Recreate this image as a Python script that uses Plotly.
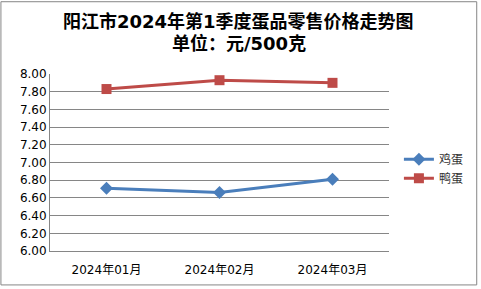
import plotly.graph_objects as go

categories = ["2024年01月", "2024年02月", "2024年03月"]
chicken = [6.71, 6.66, 6.81]
duck = [7.83, 7.93, 7.90]
tick_vals = [6.0 + 0.2 * i for i in range(11)]
title_lines = ["阳江市2024年第1季度蛋品零售价格走势图", "单位：元/500克"]

W, H = 481, 289
L, R, T, B = 50, 89, 74, 35
pw, ph = W - L - R, H - T - B

fig = go.Figure()
fig.add_trace(go.Scatter(x=categories, y=chicken, name="鸡蛋", mode="lines+markers",
                         line=dict(color="#4A7EBB", width=3),
                         marker=dict(symbol="diamond", size=10, color="#4A7EBB")))
fig.add_trace(go.Scatter(x=categories, y=duck, name="鸭蛋", mode="lines+markers",
                         line=dict(color="#BE4B48", width=3),
                         marker=dict(symbol="square", size=10, color="#BE4B48")))

font_fam = "DejaVu Sans, Noto Sans CJK SC"
annotations = []
for i, txt in enumerate(title_lines):
    annotations.append(dict(text="<b>" + txt + "</b>", xref="paper", yref="paper",
                            x=(W / 2 - L) / pw, xanchor="center",
                            y=1 + (T - (21 + 22 * i)) / ph, yanchor="middle",
                            showarrow=False,
                            font=dict(family=font_fam, size=18, color="black")))

fig.update_layout(
    width=W, height=H,
    margin=dict(l=L, r=R, t=T, b=B),
    paper_bgcolor="white", plot_bgcolor="white",
    font=dict(family=font_fam, size=11, color="black"),
    showlegend=True,
    annotations=annotations,
    legend=dict(x=(402 - L) / pw, xanchor="left", y=(254 - 146) / ph, yanchor="top",
                font=dict(size=12, color="#333333"), bgcolor="rgba(0,0,0,0)",
                tracegroupgap=6, itemwidth=30),
    xaxis=dict(showgrid=False, showline=True, linecolor="#868686", linewidth=1,
               range=[-0.5, 2.5], ticks="", ticklabelstandoff=8,
               tickfont=dict(size=12), fixedrange=True),
    yaxis=dict(range=[6.0, 8.0], tickvals=tick_vals, tickformat=".2f",
               showgrid=True, gridcolor="#868686", gridwidth=1,
               showline=True, linecolor="#868686", linewidth=1,
               ticks="", tickfont=dict(size=12), zeroline=False),
    shapes=[dict(type="rect", xref="paper", yref="paper",
                 x0=-(L - 0.5) / pw, x1=1 + (R - 0.5) / pw,
                 y0=-(B - 0.5) / ph, y1=1 + (T - 0.5) / ph,
                 line=dict(color="#868686", width=1), fillcolor="rgba(0,0,0,0)")],
)
fig.write_html("out.html")
